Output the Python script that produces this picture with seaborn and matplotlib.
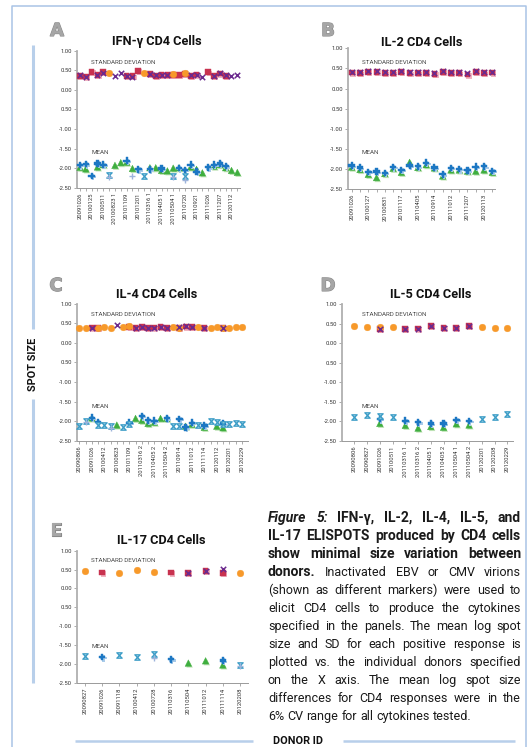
import numpy as np
import pandas as pd
import matplotlib
matplotlib.use("Agg")
import matplotlib.pyplot as plt
import matplotlib.patheffects as pe
from matplotlib.lines import Line2D
from matplotlib.path import Path
import seaborn as sns

sns.set_style("ticks")
plt.rcParams["font.family"] = ["Roboto", "DejaVu Sans"]

nan = np.nan

# ---------------- data ----------------
# panel A  IFN-g
a_labels = ["20091026", "", "20100125", "", "20100511", "", "20100823 1", "", "20101109", "",
            "20101201", "", "20110316 1", "", "20110405 1", "", "20110504 1", "", "20110720", "",
            "20110921", "", "20111026", "", "20111207", "", "20120112", ""]
a_sd_square = [.36, .34, .46, .38, .45, nan, nan, nan, .35, .35, .49, nan, .40, .36, .38, .38,
               .37, .37, .40, .36, .39, nan, .45, .35, .42, .36, nan, nan]
a_sd_x = [.37, .33, nan, .39, .44, nan, .36, .44, .36, .34, nan, nan, .40, .37, .38, .38,
          nan, nan, nan, .37, .39, .34, nan, .36, .42, .37, .35, .37]
a_sd_circle = [nan, nan, nan, nan, nan, .44, nan, nan, nan, nan, nan, .42, nan, nan, nan, nan,
               .40, nan, .42, nan, nan, nan, nan, nan, nan, nan, nan, nan]
a_mean_diamond = [-1.92, -1.90, -2.20, -1.88, -1.91, nan, nan, nan, -1.81, nan, -2.03, nan, -2.03, nan,
                  -2.01, nan, nan, -2.00, -2.05, -1.91, -2.09, nan, -1.98, -1.91, -1.88, -1.95, nan, nan]
a_mean_triangle = [-1.98, -2.02, nan, -1.97, -1.91, nan, -1.93, -1.86, -1.85, -2.01, nan, nan, -1.99, -1.99,
                   -2.06, -2.07, -2.00, -1.99, nan, -1.97, -2.03, -2.12, nan, -1.95, -1.91, -1.99, -2.06, -2.11]
a_mean_hourglass = [nan, nan, nan, nan, nan, -2.18, nan, nan, nan, nan, nan, -2.21, nan, nan, nan, nan,
                    -2.21, nan, -2.20, nan, nan, nan, nan, nan, nan, nan, nan, nan]
a_mean_plus = [nan, nan, nan, nan, nan, -2.23, nan, nan, nan, -2.20, nan, nan, nan, nan, nan, nan,
               -2.23, nan, -2.30, nan, nan, nan, nan, nan, nan, nan, nan, nan]

# panel B  IL-2
b_labels = ["20091026", "", "20100127", "", "20100831", "", "20101117", "", "20110405", "",
            "20110914", "", "20111012", "", "20111207", "", "20120113", ""]
b_sd_square = [.40, .38, .42, .42, .38, .38, .41, .38, .38, .39, .37, .41, .39, .38, .35, .41, .38, .40]
b_sd_x = [.42, .40, .44, .44, .40, .40, .43, .40, .40, .41, .39, .43, .41, .40, .38, .44, .41, .42]
b_mean_diamond = [-1.91, -1.96, -2.07, -2.06, -2.09, -1.95, -2.02, -1.91, -1.93, -1.84, -1.96, -2.13,
                  -1.97, -2.00, -2.03, -1.94, -1.93, -2.04]
b_mean_triangle = [-1.95, -2.01, -2.13, -2.21, -2.11, -1.98, -2.08, -1.83, -1.96, -1.89, -1.97, -2.17,
                   -2.02, -2.02, -2.05, -2.05, -2.02, -2.08]

# panel C  IL-4
c_labels = ["20090806", "", "20091026", "", "20100412", "", "20100823", "", "20101109", "",
            "20110316 2", "", "20110405 2", "", "20110504 2", "", "20110914", "", "20111012", "",
            "20111114", "", "20120112", "", "20120201", "", "20120229"]
c_sd_square = [nan, nan, .39, .38, nan, nan, nan, nan, .40, .37, .40, .37, .39, .41, .37, nan,
               .38, .42, .40, nan, .38, nan, nan, .38, nan, nan, nan]
c_sd_x = [nan, nan, .39, nan, nan, nan, .45, nan, nan, .37, .40, .37, .39, .40, .37, nan,
          .40, .42, .40, nan, .38, nan, nan, .38, nan, nan, nan]
c_sd_circle = [.39, .39, nan, .39, .41, .39, nan, .40, .43, nan, nan, nan, nan, nan, nan, .41,
               .37, nan, nan, .40, nan, .38, .41, .38, .39, .40, .40]
c_mean_diamond = [nan, nan, -1.91, -2.02, nan, nan, nan, nan, -2.04, nan, -1.87, -1.98, -1.99, nan, -1.93, nan,
                  -1.94, -2.16, -2.04, nan, -2.11, nan, nan, -2.06, nan, nan, nan]
c_mean_triangle = [nan, nan, -1.92, nan, nan, nan, -2.10, nan, nan, -1.93, -1.98, -2.06, -2.03, -1.93, -1.93, nan,
                   nan, -2.13, -2.08, nan, -2.16, nan, -2.13, -2.17, nan, nan, nan]
c_mean_hourglass = [-2.13, -2.00, nan, -2.09, -2.11, -2.13, nan, -2.15, -2.08, nan, nan, nan, nan, nan, nan, -2.12,
                    -2.12, nan, nan, -2.09, nan, -2.00, -2.03, -2.07, -2.07, -2.04, -2.07]
c_mean_plus = [nan, -2.03, nan, nan, nan, -2.18, nan, nan, nan, nan, nan, nan, nan, nan, nan, nan,
               nan, nan, nan, nan, nan, nan, nan, nan, nan, nan, nan]

# panel D  IL-5
d_labels = ["20090806", "20090827", "20091026", "20100511", "20110316 1", "20110316 2", "20110405 1",
            "20110405 2", "20110504 1", "20110504 2", "20120201", "20120208", "20120229"]
d_sd_square = [nan, nan, .37, nan, .36, .38, .44, .40, .40, .44, nan, nan, nan]
d_sd_x = [nan, nan, .38, nan, .36, .38, .44, .40, .40, .44, nan, nan, nan]
d_sd_circle = [.45, .42, .42, .42, nan, nan, nan, nan, nan, nan, .43, .40, .40]
d_mean_diamond = [nan, nan, -1.94, nan, -1.98, -2.02, -2.05, -2.05, -1.96, -1.99, nan, nan, nan]
d_mean_triangle = [nan, nan, -2.05, nan, -2.10, -2.17, -2.13, -2.15, -2.06, -2.09, nan, nan, nan]
d_mean_hourglass = [-1.89, -1.84, -1.86, -1.88, nan, nan, nan, nan, nan, nan, -1.94, -1.88, -1.82]

# panel E  IL-17
e_labels = ["20090827", "20091026", "20091118", "20100412", "20100728", "20110316", "20110504",
            "20111012", "20111114", "20120208"]
e_sd_square = [nan, .42, nan, nan, nan, .42, .40, .47, .41, nan]
e_sd_x = [nan, nan, nan, nan, nan, nan, .40, .47, .51, nan]
e_sd_circle = [.46, nan, .42, .49, .43, nan, nan, nan, nan, .42]
e_mean_diamond = [nan, -1.82, nan, nan, nan, -1.88, nan, nan, -1.91, nan]
e_mean_triangle = [nan, nan, nan, nan, nan, nan, -1.98, -1.92, -2.03, nan]
e_mean_hourglass = [-1.79, nan, -1.77, -1.82, -1.74, nan, nan, nan, nan, -2.03]
e_mean_plus = [nan, nan, nan, nan, -1.85, nan, nan, nan, nan, -2.05]

y_ticks = [1.0, 0.5, 0.0, -0.5, -1.0, -1.5, -2.0, -2.5]
y_tick_labels = ["1.00", "0.50", "0.00", "0.50", "-1.00", "-1.50", "-2.00", "-2.50"]

# ---------------- styles ----------------
RED, PINK = "#c8324f", "#f1b5c2"
PURPLE = "#6b2a8e"
ORANGE = "#f7992a"
BLUE, BLUE_SH = "#1c77c3", "#a9cbe9"
GREEN, GREEN_SH = "#3fae3f", "#bfe3b6"
CYAN, CYAN_F = "#3a9cc6", "#b6dcec"
PALE = "#9db3db"
FRAME = "#a9c4e6"
INNER = "#b8cfea"

hourglass = Path([(-1, 1), (1, 1), (-1, -1), (1, -1), (-1, 1)],
                 [Path.MOVETO, Path.LINETO, Path.LINETO, Path.LINETO, Path.CLOSEPOLY])

W, H = 532, 747
fig = plt.figure(figsize=(W / 100, H / 100), dpi=100)


def px_box(l, t, r, b):
    return [l / W, 1 - b / H, (r - l) / W, (b - t) / H]


def ftext(x, y, s, **kw):
    return fig.text(x / W, 1 - y / H, s, **kw)


def shadow(col):
    return [pe.SimplePatchShadow(offset=(0.9, -0.9), shadow_rgbFace=col, alpha=1.0), pe.Normal()]


def draw(ax, vals, marker, face, edge, s, lw=0.5, z=3, sh=None):
    df = pd.DataFrame({"donor": np.arange(len(vals)), "value": vals}).dropna()
    if df.empty:
        return
    kw = dict(marker=marker, s=s, color=face, edgecolor=edge, linewidth=lw, zorder=z,
              clip_on=False, legend=False)
    if sh is not None:
        kw["path_effects"] = shadow(sh)
    sns.scatterplot(data=df, x="donor", y="value", ax=ax, **kw)


def panel(box, xlim, labels, title, title_xy, letter, letter_xy, sd_xy, mean_xy, series):
    ax = fig.add_axes(px_box(*box))
    ax.patch.set_alpha(0)
    sq, xx, ci, di, tr, hg, pl = series
    if sq is not None:
        draw(ax, sq, "s", RED, RED, 17, lw=0.3, z=3, sh=PINK)
    if ci is not None:
        draw(ax, ci, "o", ORANGE, ORANGE, 23, lw=0.3, z=3.5)
    if xx is not None:
        draw(ax, xx, "x", PURPLE, PURPLE, 15, lw=1.1, z=4)
    if tr is not None:
        draw(ax, tr, "^", GREEN, GREEN, 22, lw=0.3, z=3, sh=GREEN_SH)
    if di is not None:
        draw(ax, di, "P", BLUE, BLUE, 22, lw=0.3, z=3.5, sh=BLUE_SH)
    if hg is not None:
        draw(ax, hg, hourglass, CYAN_F, CYAN, 15, lw=0.9, z=4)
    if pl is not None:
        draw(ax, pl, "+", PALE, PALE, 22, lw=1.0, z=4)
    ax.set_xlim(*xlim)
    ax.set_ylim(-2.5, 1.0)
    ax.set_xticks(range(len(labels)))
    ax.set_xticklabels(labels, rotation=90, fontsize=4.2, color="#333333")
    ax.set_yticks(y_ticks)
    ax.set_yticklabels(y_tick_labels, fontsize=4.2, color="#333333")
    ax.set_xlabel("")
    ax.set_ylabel("")
    for s in ["top", "right"]:
        ax.spines[s].set_visible(False)
    ax.spines["left"].set_color("#b0b0b0")
    ax.spines["left"].set_linewidth(1.3)
    ax.spines["bottom"].set_color("#9a9a9a")
    ax.spines["bottom"].set_linewidth(0.7)
    ax.tick_params(axis="both", direction="out", length=2.2, width=0.5, color="#8a8a8a", pad=1.2)
    ftext(*title_xy, title, fontsize=9.2, fontweight="bold", ha="center", va="center", color="#111111")
    ftext(*letter_xy, letter, fontsize=13, fontweight="bold", ha="center", va="center", color="#a6a6a6",
          family="DejaVu Sans", path_effects=[pe.withStroke(linewidth=0.8, foreground="#8a8a8a")])
    ftext(*sd_xy, "STANDARD DEVIATION", fontsize=4.5, ha="left", va="center", color="#4a4a4a")
    ftext(*mean_xy, "MEAN", fontsize=4.5, ha="left", va="center", color="#4a4a4a")
    return ax


panel((77, 50.7, 240, 187.7), (-0.51, 27.46), a_labels, "IFN-\u03b3 CD4 Cells", (157, 42), "A", (57, 31),
      (91, 62), (91, 153),
      (a_sd_square, a_sd_x, a_sd_circle, a_mean_diamond, a_mean_triangle, a_mean_hourglass, a_mean_plus))
panel((348, 48.3, 495, 189.3), (-0.45, 17.33), b_labels, "IL-2 CD4 Cells", (422, 42), "B", (328, 31),
      (362, 62), (362, 153),
      (b_sd_square, b_sd_x, None, b_mean_diamond, b_mean_triangle, None, None))
panel((77, 303.7, 248, 440.7), (-0.37, 27.0), c_labels, "IL-4 CD4 Cells", (157, 295), "C", (56, 286),
      (91, 314), (91, 407),
      (c_sd_square, c_sd_x, c_sd_circle, c_mean_diamond, c_mean_triangle, c_mean_hourglass, c_mean_plus))
panel((341.7, 304.3, 513, 441), (-0.99, 12.45), d_labels, "IL-5 CD4 Cells", (431, 295), "D", (328, 286),
      (362, 314), (362, 407),
      (d_sd_square, d_sd_x, d_sd_circle, d_mean_diamond, d_mean_triangle, d_mean_hourglass, None))
panel((77, 550.7, 248, 682.7), (-0.46, 9.46), e_labels, "IL-17 CD4 Cells", (161, 541), "E", (56, 531),
      (91, 560), (91, 647),
      (e_sd_square, e_sd_x, e_sd_circle, e_mean_diamond, e_mean_triangle, e_mean_hourglass, e_mean_plus))


# ---------------- frame & axis titles ----------------
def fline(xs, ys, color, lw):
    fig.add_artist(Line2D([x / W for x in xs], [1 - y / H for y in ys], transform=fig.transFigure,
                          color=color, linewidth=lw, solid_capstyle="butt"))


fline([12, 12, 525.5, 525.5], [747, 6, 6, 747], FRAME, 1.1)
fline([33, 33], [45, 329], INNER, 2.2)
fline([33, 33], [399, 683], INNER, 2.2)
fline([75, 253], [741, 741], INNER, 1.8)
fline([343, 515], [741, 741], INNER, 1.8)
ftext(33, 364, "SPOT SIZE", fontsize=7.8, fontweight="bold", rotation=90, ha="center", va="center",
      color="#111111")
ftext(298, 741, "DONOR ID", fontsize=7.8, fontweight="bold", ha="center", va="center", color="#111111")

# ---------------- caption (justified) ----------------
caption = [
    [("Figure 5:", "bi"), ("IFN-\u03b3, IL-2, IL-4, IL-5, and", "b")],
    [("IL-17 ELISPOTS produced by CD4 cells", "b")],
    [("show minimal size variation between", "b")],
    [("donors.", "b"), ("Inactivated EBV or CMV virions", "r")],
    [("(shown as different markers) were used to", "r")],
    [("elicit CD4 cells to produce the cytokines", "r")],
    [("specified in the panels. The mean log spot", "r")],
    [("size and SD for each positive response is", "r")],
    [("plotted vs. the individual donors specified", "r")],
    [("on the X axis. The mean log spot size", "r")],
    [("differences for CD4 responses were in the", "r")],
    [("6% CV range for all cytokines tested.", "r")],
]
styles = {"bi": dict(fontweight="bold", fontstyle="italic", fontsize=10.0),
          "b": dict(fontweight="bold", fontsize=10.0),
          "r": dict(fontsize=9.0)}
renderer = fig.canvas.get_renderer()
cap_left, cap_right, cap_top, cap_step = 268, 521, 522, 18.0


def measure(s, st):
    t = fig.text(0, 0, s, **styles[st])
    w = t.get_window_extent(renderer).width
    t.remove()
    return w


space_w = measure("a a", "r") - measure("aa", "r")
for i, line in enumerate(caption):
    words = [(w, st) for seg, st in line for w in seg.split()]
    arts, widths = [], []
    for w, st in words:
        t = fig.text(0, 0, w, va="baseline", color="#1a1a1a", **styles[st])
        widths.append(t.get_window_extent(renderer).width)
        arts.append(t)
    if i == len(caption) - 1:
        gap = space_w
    else:
        gap = (cap_right - cap_left - sum(widths)) / (len(words) - 1)
    x = cap_left
    y = cap_top + i * cap_step
    for t, wd in zip(arts, widths):
        t.set_position((x / W, 1 - y / H))
        x += wd + gap

fig.savefig("out.png", dpi=100)
